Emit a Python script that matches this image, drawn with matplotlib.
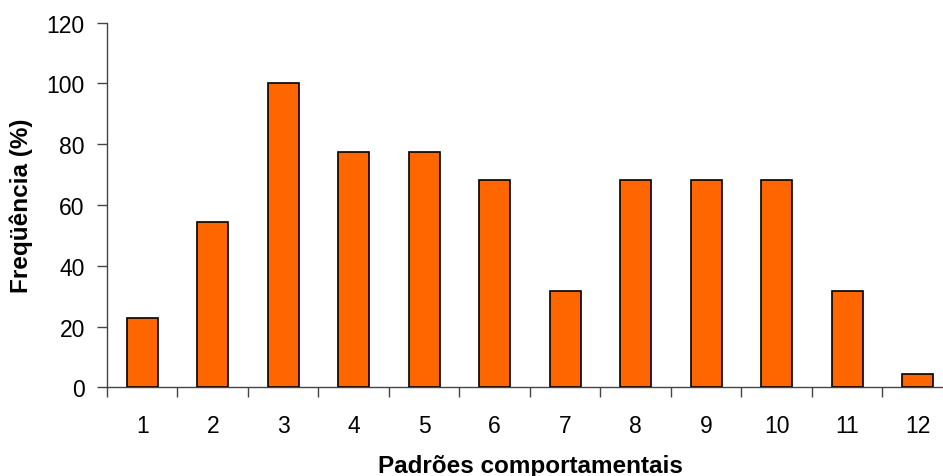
import matplotlib
matplotlib.use('Agg')
import matplotlib.pyplot as plt

# Data
categories = ['1', '2', '3', '4', '5', '6', '7', '8', '9', '10', '11', '12']
frequencies = [22.7, 54.5, 100.0, 77.3, 77.3, 68.2, 31.8, 68.2, 68.2, 68.2, 31.8, 4.5]
y_ticks = [0, 20, 40, 60, 80, 100, 120]

plt.rcParams['font.family'] = ['Liberation Sans', 'DejaVu Sans']

fig = plt.figure(figsize=(9.43, 4.77), dpi=100)
W, H = 943, 477
left, right = 107, 953
bottom, top = 388.3, 23.7
ax = fig.add_axes([left / W, 1 - bottom / H, (right - left) / W, (bottom - top) / H])

x = list(range(1, len(categories) + 1))
ax.bar(x, frequencies, width=0.44, color='#FF6600', edgecolor='black', linewidth=1.2, zorder=3)

ax.set_xlim(0.5, 12.5)
ax.set_ylim(0, 120)
ax.set_yticks(y_ticks)
ax.set_xticks(x)
ax.set_xticklabels(categories)
# tick marks between categories
ax.set_xticks([i + 0.5 for i in range(0, 13)], minor=True)
ax.tick_params(axis='x', which='major', length=0, pad=19.5, labelsize=16.5)
ax.tick_params(axis='x', which='minor', length=7, width=1, color='#444444')
ax.tick_params(axis='y', length=7, width=1, color='#444444', pad=9, labelsize=16.5)

for s in ['top', 'right']:
    ax.spines[s].set_visible(False)
for s in ['left', 'bottom']:
    ax.spines[s].set_color('#444444')
    ax.spines[s].set_linewidth(1)

ax.set_ylabel('Freqüência (%)', fontsize=17.5, fontweight='bold')
ax.yaxis.set_label_coords(-0.088, 0.5)
ax.set_xlabel('Padrões comportamentais', fontsize=17.5, fontweight='bold')
ax.xaxis.set_label_coords(0.5, -0.183)

fig.savefig('out.png', dpi=100)
